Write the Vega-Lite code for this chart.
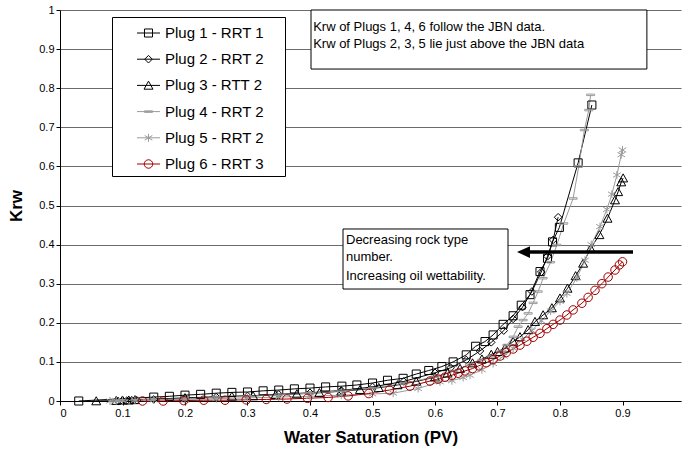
{
  "$schema": "https://vega.github.io/schema/vega-lite/v6.json",
  "width": 621,
  "height": 391,
  "autosize": {"type": "none"},
  "padding": {"left": 60, "top": 10, "right": 1, "bottom": 53},
  "background": "white",
  "config": {"view": {"stroke": null}, "font": "Liberation Sans"},
  "layer": [
    {
      "data": {"values": [
        {"s": "Plug 1 - RRT 1", "x": 0.03, "y": 0}, {"s": "Plug 1 - RRT 1", "x": 0.15, "y": 0.01}, {"s": "Plug 1 - RRT 1", "x": 0.175, "y": 0.012}, {"s": "Plug 1 - RRT 1", "x": 0.2, "y": 0.015}, {"s": "Plug 1 - RRT 1", "x": 0.225, "y": 0.017}, {"s": "Plug 1 - RRT 1", "x": 0.25, "y": 0.02}, {"s": "Plug 1 - RRT 1", "x": 0.275, "y": 0.022}, {"s": "Plug 1 - RRT 1", "x": 0.3, "y": 0.023}, {"s": "Plug 1 - RRT 1", "x": 0.325, "y": 0.026}, {"s": "Plug 1 - RRT 1", "x": 0.35, "y": 0.028}, {"s": "Plug 1 - RRT 1", "x": 0.375, "y": 0.031}, {"s": "Plug 1 - RRT 1", "x": 0.4, "y": 0.033}, {"s": "Plug 1 - RRT 1", "x": 0.425, "y": 0.036}, {"s": "Plug 1 - RRT 1", "x": 0.451, "y": 0.038}, {"s": "Plug 1 - RRT 1", "x": 0.475, "y": 0.041}, {"s": "Plug 1 - RRT 1", "x": 0.5, "y": 0.046}, {"s": "Plug 1 - RRT 1", "x": 0.524, "y": 0.053}, {"s": "Plug 1 - RRT 1", "x": 0.549, "y": 0.058}, {"s": "Plug 1 - RRT 1", "x": 0.57, "y": 0.069}, {"s": "Plug 1 - RRT 1", "x": 0.59, "y": 0.078}, {"s": "Plug 1 - RRT 1", "x": 0.611, "y": 0.088}, {"s": "Plug 1 - RRT 1", "x": 0.629, "y": 0.1}, {"s": "Plug 1 - RRT 1", "x": 0.65, "y": 0.118}, {"s": "Plug 1 - RRT 1", "x": 0.665, "y": 0.14}, {"s": "Plug 1 - RRT 1", "x": 0.68, "y": 0.152}, {"s": "Plug 1 - RRT 1", "x": 0.693, "y": 0.169}, {"s": "Plug 1 - RRT 1", "x": 0.709, "y": 0.196}, {"s": "Plug 1 - RRT 1", "x": 0.725, "y": 0.218}, {"s": "Plug 1 - RRT 1", "x": 0.738, "y": 0.245}, {"s": "Plug 1 - RRT 1", "x": 0.752, "y": 0.272}, {"s": "Plug 1 - RRT 1", "x": 0.768, "y": 0.331}, {"s": "Plug 1 - RRT 1", "x": 0.78, "y": 0.365}, {"s": "Plug 1 - RRT 1", "x": 0.788, "y": 0.407}, {"s": "Plug 1 - RRT 1", "x": 0.799, "y": 0.444}, {"s": "Plug 1 - RRT 1", "x": 0.829, "y": 0.609}, {"s": "Plug 1 - RRT 1", "x": 0.851, "y": 0.757},
        {"s": "Plug 2 - RRT 2", "x": 0.093, "y": 0}, {"s": "Plug 2 - RRT 2", "x": 0.1, "y": 0.001}, {"s": "Plug 2 - RRT 2", "x": 0.107, "y": 0.001}, {"s": "Plug 2 - RRT 2", "x": 0.115, "y": 0.002}, {"s": "Plug 2 - RRT 2", "x": 0.123, "y": 0.002}, {"s": "Plug 2 - RRT 2", "x": 0.15, "y": 0.004}, {"s": "Plug 2 - RRT 2", "x": 0.2, "y": 0.007}, {"s": "Plug 2 - RRT 2", "x": 0.25, "y": 0.01}, {"s": "Plug 2 - RRT 2", "x": 0.3, "y": 0.013}, {"s": "Plug 2 - RRT 2", "x": 0.35, "y": 0.017}, {"s": "Plug 2 - RRT 2", "x": 0.4, "y": 0.021}, {"s": "Plug 2 - RRT 2", "x": 0.45, "y": 0.027}, {"s": "Plug 2 - RRT 2", "x": 0.5, "y": 0.036}, {"s": "Plug 2 - RRT 2", "x": 0.55, "y": 0.05}, {"s": "Plug 2 - RRT 2", "x": 0.6, "y": 0.072}, {"s": "Plug 2 - RRT 2", "x": 0.625, "y": 0.085}, {"s": "Plug 2 - RRT 2", "x": 0.65, "y": 0.105}, {"s": "Plug 2 - RRT 2", "x": 0.672, "y": 0.128}, {"s": "Plug 2 - RRT 2", "x": 0.69, "y": 0.15}, {"s": "Plug 2 - RRT 2", "x": 0.71, "y": 0.18}, {"s": "Plug 2 - RRT 2", "x": 0.725, "y": 0.21}, {"s": "Plug 2 - RRT 2", "x": 0.74, "y": 0.24}, {"s": "Plug 2 - RRT 2", "x": 0.755, "y": 0.28}, {"s": "Plug 2 - RRT 2", "x": 0.77, "y": 0.33}, {"s": "Plug 2 - RRT 2", "x": 0.78, "y": 0.37}, {"s": "Plug 2 - RRT 2", "x": 0.789, "y": 0.412}, {"s": "Plug 2 - RRT 2", "x": 0.797, "y": 0.47},
        {"s": "Plug 3 - RTT 2", "x": 0.058, "y": 0}, {"s": "Plug 3 - RTT 2", "x": 0.09, "y": 0.001}, {"s": "Plug 3 - RTT 2", "x": 0.1, "y": 0.002}, {"s": "Plug 3 - RTT 2", "x": 0.11, "y": 0.002}, {"s": "Plug 3 - RTT 2", "x": 0.12, "y": 0.003}, {"s": "Plug 3 - RTT 2", "x": 0.2, "y": 0.008}, {"s": "Plug 3 - RTT 2", "x": 0.275, "y": 0.012}, {"s": "Plug 3 - RTT 2", "x": 0.309, "y": 0.013}, {"s": "Plug 3 - RTT 2", "x": 0.345, "y": 0.016}, {"s": "Plug 3 - RTT 2", "x": 0.379, "y": 0.018}, {"s": "Plug 3 - RTT 2", "x": 0.415, "y": 0.021}, {"s": "Plug 3 - RTT 2", "x": 0.45, "y": 0.025}, {"s": "Plug 3 - RTT 2", "x": 0.48, "y": 0.029}, {"s": "Plug 3 - RTT 2", "x": 0.51, "y": 0.034}, {"s": "Plug 3 - RTT 2", "x": 0.54, "y": 0.041}, {"s": "Plug 3 - RTT 2", "x": 0.57, "y": 0.05}, {"s": "Plug 3 - RTT 2", "x": 0.6, "y": 0.061}, {"s": "Plug 3 - RTT 2", "x": 0.62, "y": 0.071}, {"s": "Plug 3 - RTT 2", "x": 0.64, "y": 0.083}, {"s": "Plug 3 - RTT 2", "x": 0.66, "y": 0.097}, {"s": "Plug 3 - RTT 2", "x": 0.675, "y": 0.107}, {"s": "Plug 3 - RTT 2", "x": 0.69, "y": 0.119}, {"s": "Plug 3 - RTT 2", "x": 0.7, "y": 0.126}, {"s": "Plug 3 - RTT 2", "x": 0.712, "y": 0.135}, {"s": "Plug 3 - RTT 2", "x": 0.725, "y": 0.152}, {"s": "Plug 3 - RTT 2", "x": 0.736, "y": 0.164}, {"s": "Plug 3 - RTT 2", "x": 0.749, "y": 0.182}, {"s": "Plug 3 - RTT 2", "x": 0.76, "y": 0.203}, {"s": "Plug 3 - RTT 2", "x": 0.773, "y": 0.22}, {"s": "Plug 3 - RTT 2", "x": 0.787, "y": 0.238}, {"s": "Plug 3 - RTT 2", "x": 0.8, "y": 0.263}, {"s": "Plug 3 - RTT 2", "x": 0.812, "y": 0.288}, {"s": "Plug 3 - RTT 2", "x": 0.825, "y": 0.32}, {"s": "Plug 3 - RTT 2", "x": 0.837, "y": 0.352}, {"s": "Plug 3 - RTT 2", "x": 0.849, "y": 0.39}, {"s": "Plug 3 - RTT 2", "x": 0.863, "y": 0.425}, {"s": "Plug 3 - RTT 2", "x": 0.876, "y": 0.467}, {"s": "Plug 3 - RTT 2", "x": 0.888, "y": 0.514}, {"s": "Plug 3 - RTT 2", "x": 0.893, "y": 0.535}, {"s": "Plug 3 - RTT 2", "x": 0.898, "y": 0.56}, {"s": "Plug 3 - RTT 2", "x": 0.901, "y": 0.57},
        {"s": "Plug 4 - RRT 2", "x": 0.09, "y": 0}, {"s": "Plug 4 - RRT 2", "x": 0.1, "y": 0.001}, {"s": "Plug 4 - RRT 2", "x": 0.12, "y": 0.002}, {"s": "Plug 4 - RRT 2", "x": 0.14, "y": 0.003}, {"s": "Plug 4 - RRT 2", "x": 0.2, "y": 0.006}, {"s": "Plug 4 - RRT 2", "x": 0.25, "y": 0.009}, {"s": "Plug 4 - RRT 2", "x": 0.3, "y": 0.012}, {"s": "Plug 4 - RRT 2", "x": 0.35, "y": 0.016}, {"s": "Plug 4 - RRT 2", "x": 0.4, "y": 0.02}, {"s": "Plug 4 - RRT 2", "x": 0.45, "y": 0.026}, {"s": "Plug 4 - RRT 2", "x": 0.5, "y": 0.033}, {"s": "Plug 4 - RRT 2", "x": 0.55, "y": 0.045}, {"s": "Plug 4 - RRT 2", "x": 0.6, "y": 0.062}, {"s": "Plug 4 - RRT 2", "x": 0.63, "y": 0.077}, {"s": "Plug 4 - RRT 2", "x": 0.655, "y": 0.093}, {"s": "Plug 4 - RRT 2", "x": 0.675, "y": 0.105}, {"s": "Plug 4 - RRT 2", "x": 0.69, "y": 0.115}, {"s": "Plug 4 - RRT 2", "x": 0.707, "y": 0.128}, {"s": "Plug 4 - RRT 2", "x": 0.715, "y": 0.143}, {"s": "Plug 4 - RRT 2", "x": 0.725, "y": 0.164}, {"s": "Plug 4 - RRT 2", "x": 0.733, "y": 0.19}, {"s": "Plug 4 - RRT 2", "x": 0.741, "y": 0.207}, {"s": "Plug 4 - RRT 2", "x": 0.749, "y": 0.224}, {"s": "Plug 4 - RRT 2", "x": 0.757, "y": 0.251}, {"s": "Plug 4 - RRT 2", "x": 0.765, "y": 0.28}, {"s": "Plug 4 - RRT 2", "x": 0.773, "y": 0.314}, {"s": "Plug 4 - RRT 2", "x": 0.785, "y": 0.355}, {"s": "Plug 4 - RRT 2", "x": 0.795, "y": 0.399}, {"s": "Plug 4 - RRT 2", "x": 0.806, "y": 0.454}, {"s": "Plug 4 - RRT 2", "x": 0.821, "y": 0.518}, {"s": "Plug 4 - RRT 2", "x": 0.83, "y": 0.6}, {"s": "Plug 4 - RRT 2", "x": 0.839, "y": 0.693}, {"s": "Plug 4 - RRT 2", "x": 0.846, "y": 0.744}, {"s": "Plug 4 - RRT 2", "x": 0.849, "y": 0.783},
        {"s": "Plug 5 - RRT 2", "x": 0.08, "y": 0}, {"s": "Plug 5 - RRT 2", "x": 0.09, "y": 0.001}, {"s": "Plug 5 - RRT 2", "x": 0.1, "y": 0.001}, {"s": "Plug 5 - RRT 2", "x": 0.12, "y": 0.002}, {"s": "Plug 5 - RRT 2", "x": 0.15, "y": 0.003}, {"s": "Plug 5 - RRT 2", "x": 0.2, "y": 0.004}, {"s": "Plug 5 - RRT 2", "x": 0.25, "y": 0.006}, {"s": "Plug 5 - RRT 2", "x": 0.3, "y": 0.008}, {"s": "Plug 5 - RRT 2", "x": 0.35, "y": 0.01}, {"s": "Plug 5 - RRT 2", "x": 0.4, "y": 0.012}, {"s": "Plug 5 - RRT 2", "x": 0.45, "y": 0.015}, {"s": "Plug 5 - RRT 2", "x": 0.5, "y": 0.018}, {"s": "Plug 5 - RRT 2", "x": 0.533, "y": 0.02}, {"s": "Plug 5 - RRT 2", "x": 0.573, "y": 0.032}, {"s": "Plug 5 - RRT 2", "x": 0.608, "y": 0.049}, {"s": "Plug 5 - RRT 2", "x": 0.627, "y": 0.052}, {"s": "Plug 5 - RRT 2", "x": 0.645, "y": 0.06}, {"s": "Plug 5 - RRT 2", "x": 0.656, "y": 0.066}, {"s": "Plug 5 - RRT 2", "x": 0.675, "y": 0.08}, {"s": "Plug 5 - RRT 2", "x": 0.693, "y": 0.096}, {"s": "Plug 5 - RRT 2", "x": 0.71, "y": 0.115}, {"s": "Plug 5 - RRT 2", "x": 0.725, "y": 0.135}, {"s": "Plug 5 - RRT 2", "x": 0.74, "y": 0.158}, {"s": "Plug 5 - RRT 2", "x": 0.755, "y": 0.18}, {"s": "Plug 5 - RRT 2", "x": 0.77, "y": 0.205}, {"s": "Plug 5 - RRT 2", "x": 0.785, "y": 0.23}, {"s": "Plug 5 - RRT 2", "x": 0.8, "y": 0.255}, {"s": "Plug 5 - RRT 2", "x": 0.811, "y": 0.275}, {"s": "Plug 5 - RRT 2", "x": 0.827, "y": 0.315}, {"s": "Plug 5 - RRT 2", "x": 0.84, "y": 0.36}, {"s": "Plug 5 - RRT 2", "x": 0.85, "y": 0.4}, {"s": "Plug 5 - RRT 2", "x": 0.864, "y": 0.446}, {"s": "Plug 5 - RRT 2", "x": 0.875, "y": 0.49}, {"s": "Plug 5 - RRT 2", "x": 0.883, "y": 0.529}, {"s": "Plug 5 - RRT 2", "x": 0.891, "y": 0.578}, {"s": "Plug 5 - RRT 2", "x": 0.898, "y": 0.63}, {"s": "Plug 5 - RRT 2", "x": 0.9, "y": 0.642},
        {"s": "Plug 6 - RRT 3", "x": 0.132, "y": 0}, {"s": "Plug 6 - RRT 3", "x": 0.165, "y": 0}, {"s": "Plug 6 - RRT 3", "x": 0.198, "y": 0.001}, {"s": "Plug 6 - RRT 3", "x": 0.23, "y": 0.002}, {"s": "Plug 6 - RRT 3", "x": 0.264, "y": 0.002}, {"s": "Plug 6 - RRT 3", "x": 0.298, "y": 0.003}, {"s": "Plug 6 - RRT 3", "x": 0.33, "y": 0.004}, {"s": "Plug 6 - RRT 3", "x": 0.363, "y": 0.005}, {"s": "Plug 6 - RRT 3", "x": 0.396, "y": 0.007}, {"s": "Plug 6 - RRT 3", "x": 0.429, "y": 0.009}, {"s": "Plug 6 - RRT 3", "x": 0.461, "y": 0.013}, {"s": "Plug 6 - RRT 3", "x": 0.494, "y": 0.019}, {"s": "Plug 6 - RRT 3", "x": 0.527, "y": 0.028}, {"s": "Plug 6 - RRT 3", "x": 0.56, "y": 0.038}, {"s": "Plug 6 - RRT 3", "x": 0.592, "y": 0.051}, {"s": "Plug 6 - RRT 3", "x": 0.605, "y": 0.056}, {"s": "Plug 6 - RRT 3", "x": 0.616, "y": 0.061}, {"s": "Plug 6 - RRT 3", "x": 0.627, "y": 0.066}, {"s": "Plug 6 - RRT 3", "x": 0.637, "y": 0.071}, {"s": "Plug 6 - RRT 3", "x": 0.648, "y": 0.077}, {"s": "Plug 6 - RRT 3", "x": 0.66, "y": 0.083}, {"s": "Plug 6 - RRT 3", "x": 0.67, "y": 0.09}, {"s": "Plug 6 - RRT 3", "x": 0.682, "y": 0.098}, {"s": "Plug 6 - RRT 3", "x": 0.693, "y": 0.106}, {"s": "Plug 6 - RRT 3", "x": 0.704, "y": 0.115}, {"s": "Plug 6 - RRT 3", "x": 0.714, "y": 0.124}, {"s": "Plug 6 - RRT 3", "x": 0.725, "y": 0.133}, {"s": "Plug 6 - RRT 3", "x": 0.736, "y": 0.143}, {"s": "Plug 6 - RRT 3", "x": 0.747, "y": 0.153}, {"s": "Plug 6 - RRT 3", "x": 0.757, "y": 0.163}, {"s": "Plug 6 - RRT 3", "x": 0.768, "y": 0.173}, {"s": "Plug 6 - RRT 3", "x": 0.779, "y": 0.185}, {"s": "Plug 6 - RRT 3", "x": 0.789, "y": 0.196}, {"s": "Plug 6 - RRT 3", "x": 0.8, "y": 0.207}, {"s": "Plug 6 - RRT 3", "x": 0.811, "y": 0.22}, {"s": "Plug 6 - RRT 3", "x": 0.821, "y": 0.233}, {"s": "Plug 6 - RRT 3", "x": 0.835, "y": 0.25}, {"s": "Plug 6 - RRT 3", "x": 0.845, "y": 0.265}, {"s": "Plug 6 - RRT 3", "x": 0.856, "y": 0.283}, {"s": "Plug 6 - RRT 3", "x": 0.867, "y": 0.3}, {"s": "Plug 6 - RRT 3", "x": 0.877, "y": 0.317}, {"s": "Plug 6 - RRT 3", "x": 0.888, "y": 0.335}, {"s": "Plug 6 - RRT 3", "x": 0.895, "y": 0.348}, {"s": "Plug 6 - RRT 3", "x": 0.9, "y": 0.356}
      ]},
      "encoding": {
        "x": {"field": "x", "type": "quantitative",
          "scale": {"domain": [0, 0.9936], "nice": false, "zero": false},
          "axis": {"title": "Water Saturation (PV)", "values": [0, 0.1, 0.2, 0.3, 0.4, 0.5, 0.6, 0.7, 0.8, 0.9], "format": "~g", "grid": false,
            "domainColor": "#000", "tickColor": "#000", "tickSize": 4, "labelFontSize": 11, "labelColor": "#000", "labelPadding": 2,
            "titleFontSize": 17, "titleFontWeight": "bold", "titleColor": "#000", "titlePadding": 11}},
        "y": {"field": "y", "type": "quantitative",
          "scale": {"domain": [0, 1], "nice": false},
          "axis": {"title": "Krw", "values": [0, 0.1, 0.2, 0.3, 0.4, 0.5, 0.6, 0.7, 0.8, 0.9, 1], "format": "~g", "grid": true, "gridColor": "#6b6b6b", "gridWidth": 1,
            "domainColor": "#000", "tickColor": "#000", "tickSize": 4, "labelFontSize": 11, "labelColor": "#000", "labelPadding": 2,
            "titleFontSize": 17, "titleFontWeight": "bold", "titleColor": "#000", "titlePadding": 13}}
      },
      "resolve": {"legend": {"color": "independent", "shape": "independent"}},
      "layer": [
        {"mark": {"type": "line", "strokeWidth": 1},
          "encoding": {
            "color": {"field": "s", "type": "nominal",
              "scale": {"domain": ["Plug 1 - RRT 1", "Plug 2 - RRT 2", "Plug 3 - RTT 2", "Plug 4 - RRT 2", "Plug 5 - RRT 2", "Plug 6 - RRT 3"],
                        "range": ["#000000", "#000000", "#000000", "#9a9a9a", "#9a9a9a", "#a00000"]},
              "legend": {"title": null, "orient": "none", "legendX": 52, "legendY": 7, "direction": "vertical",
                "strokeColor": "#000", "fillColor": "#fff", "padding": 4, "symbolOffset": 20.5, "symbolSize": 529, "symbolStrokeWidth": 1, "symbolType": "stroke",
                "rowPadding": 6.2, "labelOffset": 4.5, "labelFontSize": 15, "labelFont": "Liberation Sans", "labelColor": "#000",
                "labelExpr": "datum.label + ' \u200a\u2800'"}}
          }},
        {"mark": {"type": "point", "filled": false, "strokeWidth": 1, "size": 529, "opacity": 1},
          "encoding": {
            "color": {"field": "s", "type": "nominal",
              "legend": {"title": null, "orient": "none", "legendX": 52, "legendY": 7, "direction": "vertical",
                "padding": 4, "symbolOffset": 20.5, "symbolSize": 529, "symbolStrokeWidth": 1,
                "rowPadding": 6.2, "labelOffset": 4.5, "labelFontSize": 15, "labelFont": "Liberation Sans", "labelOpacity": 0,
                "labelExpr": "datum.label + ' \u200a\u2800'"}},
            "shape": {"field": "s", "type": "nominal",
              "scale": {"domain": ["Plug 1 - RRT 1", "Plug 2 - RRT 2", "Plug 3 - RTT 2", "Plug 4 - RRT 2", "Plug 5 - RRT 2", "Plug 6 - RRT 3"],
                "range": ["M-0.35,-0.35H0.35V0.35H-0.35Z", "M0,-0.33L0.33,0L0,0.33L-0.33,0Z", "M0,-0.37L0.39,0.33H-0.39Z", "M-0.35,-0.065H0.35V0.065H-0.35Z", "M0,-0.35V0.35M-0.33,-0.2L0.33,0.2M-0.33,0.2L0.33,-0.2", "M-0.37,0A0.37,0.37,0,1,1,0.37,0A0.37,0.37,0,1,1,-0.37,0Z"]},
              "legend": {"title": null, "orient": "none", "legendX": 52, "legendY": 7, "direction": "vertical",
                "padding": 4, "symbolOffset": 20.5, "symbolSize": 529, "symbolStrokeWidth": 1,
                "rowPadding": 6.2, "labelOffset": 4.5, "labelFontSize": 15, "labelFont": "Liberation Sans", "labelOpacity": 0,
                "labelExpr": "datum.label + ' \u200a\u2800'"}}
          }}
      ]
    },
    {
      "data": {"values": [{}]},
      "mark": {"type": "rect", "fill": "#fff", "stroke": "#000", "strokeWidth": 1},
      "encoding": {"x": {"datum": 0.4016, "axis": {"values": [0, 0.1, 0.2, 0.3, 0.4, 0.5, 0.6, 0.7, 0.8, 0.9]}}, "x2": {"datum": 0.939}, "y": {"datum": 0.849, "axis": {"values": [0, 0.1, 0.2, 0.3, 0.4, 0.5, 0.6, 0.7, 0.8, 0.9, 1]}}, "y2": {"datum": 1.0}}
    },
    {
      "data": {"values": [{}]},
      "mark": {"type": "text", "text": "Krw of Plugs 1, 4, 6 follow the JBN data.", "align": "left", "baseline": "alphabetic", "fontSize": 13, "font": "Liberation Sans", "color": "#000"},
      "encoding": {"x": {"datum": 0.405, "axis": {"values": [0, 0.1, 0.2, 0.3, 0.4, 0.5, 0.6, 0.7, 0.8, 0.9]}}, "y": {"datum": 0.947, "axis": {"values": [0, 0.1, 0.2, 0.3, 0.4, 0.5, 0.6, 0.7, 0.8, 0.9, 1]}}}
    },
    {
      "data": {"values": [{}]},
      "mark": {"type": "text", "text": "Krw of Plugs 2, 3, 5 lie just above the JBN data", "align": "left", "baseline": "alphabetic", "fontSize": 13, "font": "Liberation Sans", "color": "#000"},
      "encoding": {"x": {"datum": 0.405, "axis": {"values": [0, 0.1, 0.2, 0.3, 0.4, 0.5, 0.6, 0.7, 0.8, 0.9]}}, "y": {"datum": 0.9036, "axis": {"values": [0, 0.1, 0.2, 0.3, 0.4, 0.5, 0.6, 0.7, 0.8, 0.9, 1]}}}
    },
    {
      "data": {"values": [{}]},
      "mark": {"type": "rect", "fill": "#fff", "stroke": "#000", "strokeWidth": 1},
      "encoding": {"x": {"datum": 0.4528, "axis": {"values": [0, 0.1, 0.2, 0.3, 0.4, 0.5, 0.6, 0.7, 0.8, 0.9]}}, "x2": {"datum": 0.7168}, "y": {"datum": 0.2864, "axis": {"values": [0, 0.1, 0.2, 0.3, 0.4, 0.5, 0.6, 0.7, 0.8, 0.9, 1]}}, "y2": {"datum": 0.4399}}
    },
    {
      "data": {"values": [{}]},
      "mark": {"type": "text", "text": "Decreasing rock type", "align": "left", "baseline": "alphabetic", "fontSize": 13, "font": "Liberation Sans", "color": "#000"},
      "encoding": {"x": {"datum": 0.4576, "axis": {"values": [0, 0.1, 0.2, 0.3, 0.4, 0.5, 0.6, 0.7, 0.8, 0.9]}}, "y": {"datum": 0.4028, "axis": {"values": [0, 0.1, 0.2, 0.3, 0.4, 0.5, 0.6, 0.7, 0.8, 0.9, 1]}}}
    },
    {
      "data": {"values": [{}]},
      "mark": {"type": "text", "text": "number.", "align": "left", "baseline": "alphabetic", "fontSize": 13, "font": "Liberation Sans", "color": "#000"},
      "encoding": {"x": {"datum": 0.4576, "axis": {"values": [0, 0.1, 0.2, 0.3, 0.4, 0.5, 0.6, 0.7, 0.8, 0.9]}}, "y": {"datum": 0.3568, "axis": {"values": [0, 0.1, 0.2, 0.3, 0.4, 0.5, 0.6, 0.7, 0.8, 0.9, 1]}}}
    },
    {
      "data": {"values": [{}]},
      "mark": {"type": "text", "text": "Increasing oil wettability.", "align": "left", "baseline": "alphabetic", "fontSize": 13, "font": "Liberation Sans", "color": "#000"},
      "encoding": {"x": {"datum": 0.4576, "axis": {"values": [0, 0.1, 0.2, 0.3, 0.4, 0.5, 0.6, 0.7, 0.8, 0.9]}}, "y": {"datum": 0.3107, "axis": {"values": [0, 0.1, 0.2, 0.3, 0.4, 0.5, 0.6, 0.7, 0.8, 0.9, 1]}}}
    },
    {
      "data": {"values": [{}]},
      "mark": {"type": "rule", "stroke": "#000", "strokeWidth": 3.5},
      "encoding": {"x": {"datum": 0.9168, "axis": {"values": [0, 0.1, 0.2, 0.3, 0.4, 0.5, 0.6, 0.7, 0.8, 0.9]}}, "x2": {"datum": 0.752}, "y": {"datum": 0.381, "axis": {"values": [0, 0.1, 0.2, 0.3, 0.4, 0.5, 0.6, 0.7, 0.8, 0.9, 1]}}}
    },
    {
      "data": {"values": [{}]},
      "mark": {"type": "point", "shape": "M-1,0L1,-0.9L1,0.9Z", "filled": true, "fill": "#000", "stroke": null, "size": 169, "opacity": 1},
      "encoding": {"x": {"datum": 0.7416, "axis": {"values": [0, 0.1, 0.2, 0.3, 0.4, 0.5, 0.6, 0.7, 0.8, 0.9]}}, "y": {"datum": 0.381, "axis": {"values": [0, 0.1, 0.2, 0.3, 0.4, 0.5, 0.6, 0.7, 0.8, 0.9, 1]}}}
    }
  ]
}
